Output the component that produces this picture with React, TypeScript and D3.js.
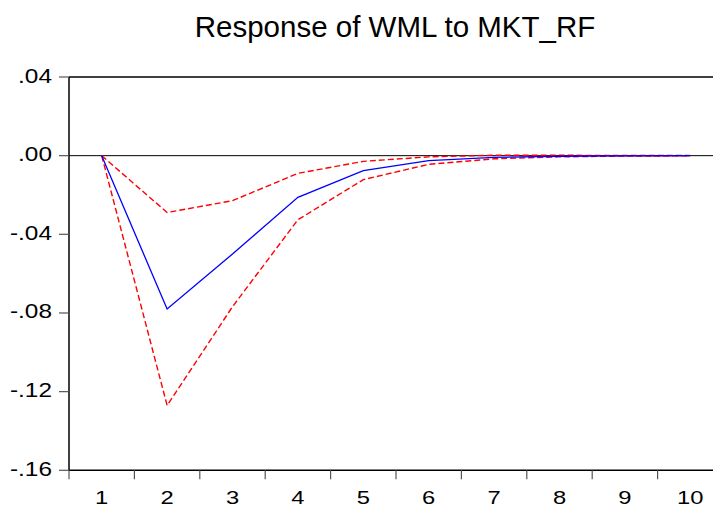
import React from "react";
import * as d3 from "d3";

// Impulse response of WML to a MKT_RF shock, with ±2 S.E. bands
const periods = [1, 2, 3, 4, 5, 6, 7, 8, 9, 10];
const response = [0, -0.078, -0.05, -0.0212, -0.0076, -0.0025, -0.0009, -0.0003, -0.0001, 0];
const upperBand = [0, -0.0289, -0.0229, -0.009, -0.0029, -0.0006, 0.0002, 0.0002, 0.0001, 0.0001];
const lowerBand = [0, -0.127, -0.0768, -0.0326, -0.0122, -0.0044, -0.0016, -0.0006, -0.0002, -0.0001];
const yTicks = [0.04, 0, -0.04, -0.08, -0.12, -0.16];
const yTickLabels = [".04", ".00", "-.04", "-.08", "-.12", "-.16"];
const title = "Response of WML to MKT_RF";

const W = 713;
const H = 512;
const left = 69;
const right = 723;
const top = 77;
const bottom = 470.3;
const font = "'Liberation Sans', Arial, Helvetica, sans-serif";

export default function App() {
  const x = d3.scaleLinear().domain([0.5, 10.5]).range([left, right]);
  const y = d3.scaleLinear().domain([-0.16, 0.04]).range([bottom, top]);
  const line = d3
    .line<number>()
    .x((_, i) => x(periods[i]))
    .y((d) => y(d));
  const boundaries = d3.range(0.5, 11, 1);

  return (
    <svg
      width={W}
      height={H}
      style={{ position: "fixed", left: 0, top: 0, background: "#fff" }}
    >
      <rect x={0} y={0} width={W} height={H} fill="#fff" />
      <text
        x={395}
        y={37}
        textAnchor="middle"
        fontFamily={font}
        fontSize={29.5}
        fill="#000"
      >
        {title}
      </text>

      {/* frame */}
      <line x1={left} x2={right} y1={top} y2={top} stroke="#000" strokeWidth={1.5} />
      <line x1={left} x2={left} y1={top} y2={bottom} stroke="#000" strokeWidth={1.5} />
      <line x1={left} x2={right} y1={bottom} y2={bottom} stroke="#000" strokeWidth={1.5} />
      <line x1={right} x2={right} y1={top} y2={bottom} stroke="#000" strokeWidth={1.5} />

      {/* zero line */}
      <line x1={left} x2={right} y1={y(0)} y2={y(0)} stroke="#000" strokeWidth={1} />

      {/* y axis */}
      {yTicks.map((t, i) => (
        <g key={t}>
          <line x1={left - 10} x2={left} y1={y(t)} y2={y(t)} stroke="#555" strokeWidth={1.2} />
          <text
            transform={`translate(${52},${y(t) + 5.5}) scale(1.22,1)`}
            textAnchor="end"
            fontFamily={font}
            fontSize={20}
            fill="#000"
          >
            {yTickLabels[i]}
          </text>
        </g>
      ))}

      {/* x axis */}
      {boundaries.map((b) => (
        <line
          key={b}
          x1={x(b)}
          x2={x(b)}
          y1={bottom}
          y2={bottom + 9}
          stroke="#555"
          strokeWidth={1.2}
        />
      ))}
      {periods.map((p) => (
        <text
          key={p}
          transform={`translate(${x(p)},${504}) scale(1.25,1)`}
          textAnchor="middle"
          fontFamily={font}
          fontSize={19}
          fill="#000"
        >
          {p}
        </text>
      ))}

      {/* bands and response */}
      <path d={line(upperBand) ?? ""} fill="none" stroke="#ff0000" strokeWidth={1.4} strokeDasharray="6,3" />
      <path d={line(lowerBand) ?? ""} fill="none" stroke="#ff0000" strokeWidth={1.4} strokeDasharray="6,3" />
      <path d={line(response) ?? ""} fill="none" stroke="#0000ff" strokeWidth={1.3} />
    </svg>
  );
}
